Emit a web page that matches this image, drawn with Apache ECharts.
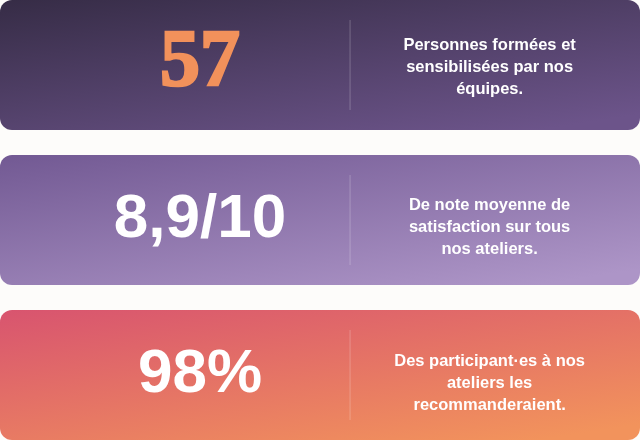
<!DOCTYPE html>
<html>
<head>
<meta charset="utf-8">
<script src="https://cdn.jsdelivr.net/npm/echarts@6/dist/echarts.min.js"></script>
<style>
  html, body { margin: 0; padding: 0; background: #fdfcfa; }
  #chart { width: 640px; height: 440px; }
</style>
</head>
<body>
<div id="chart"></div>
<script>
// chiffres clés
const categories = ['formation', 'satisfaction', 'recommandation'];
const figures = ['57', '8,9/10', '98%'];
const captions = [
  'Personnes formées et\nsensibilisées par nos\néquipes.',
  'De note moyenne de\nsatisfaction sur tous\nnos ateliers.',
  'Des participant·es à nos\nateliers les\nrecommanderaient.'
];

// couleurs des cartes (haut gauche -> bas droite)
const cardColors = [
  ['#362c46', '#6c548a'],
  ['#725993', '#ad95c7'],
  ['#d8546f', '#f2935c']
];
const figureFonts = [
  'bold 80px "Liberation Serif", serif',
  'bold 62px "Liberation Sans", sans-serif',
  'bold 62px "Liberation Sans", sans-serif'
];
const figureColors = ['#f2915b', '#ffffff', '#ffffff'];
// décalage vertical des légendes dans chaque carte
const captionShift = [2, 7, 8];

const chart = echarts.init(document.getElementById('chart'));

function renderCard(params, api) {
  const idx = params.dataIndex;
  const start = api.coord([0, api.value(1)]);
  const end = api.coord([1, api.value(1)]);
  const band = api.size([0, 1])[1];
  const h = band - 25;
  const w = end[0] - start[0];
  const cy = start[1];
  const top = cy - h / 2;
  const colors = cardColors[idx];
  const serif = idx === 0;

  return {
    type: 'group',
    children: [
      {
        type: 'rect',
        shape: { x: start[0], y: top, width: w, height: h, r: 12 },
        style: {
          fill: new echarts.graphic.LinearGradient(0, 0, 0.05, 1.6, [
            { offset: 0, color: colors[0] },
            { offset: 1, color: colors[1] }
          ])
        }
      },
      {
        type: 'line',
        shape: { x1: start[0] + w * 0.547, y1: top + 20, x2: start[0] + w * 0.547, y2: top + h - 20 },
        style: { stroke: 'rgba(255,255,255,0.16)', lineWidth: 1.5 }
      },
      {
        type: 'text',
        x: start[0] + w * 0.3125,
        y: cy - (serif ? 1 : 0),
        style: {
          text: figures[idx],
          font: figureFonts[idx],
          fill: figureColors[idx],
          stroke: serif ? figureColors[idx] : null,
          lineWidth: serif ? 2.5 : 0,
          align: 'center',
          verticalAlign: 'middle'
        }
      },
      {
        type: 'text',
        x: start[0] + w * 0.765,
        y: cy + captionShift[idx],
        style: {
          text: captions[idx],
          font: 'bold 16.5px "Liberation Sans", sans-serif',
          lineHeight: 22,
          fill: '#ffffff',
          align: 'center',
          verticalAlign: 'middle'
        }
      }
    ]
  };
}

// 3 cartes de 130 px séparées de 25 px : un pas de 155 px sur 440 px
const pad = 12.5 / 155;

chart.setOption({
  backgroundColor: '#fdfcfa',
  animation: false,
  grid: { left: 0, right: 0, top: 0, bottom: 0 },
  xAxis: { type: 'value', min: 0, max: 1, show: false },
  yAxis: { type: 'value', min: -0.5 + pad, max: 2.5 - pad, inverse: true, show: false },
  series: [{
    type: 'custom',
    renderItem: renderCard,
    encode: { x: 0, y: 1 },
    data: categories.map((c, i) => [1, i])
  }]
});
</script>
</body>
</html>
